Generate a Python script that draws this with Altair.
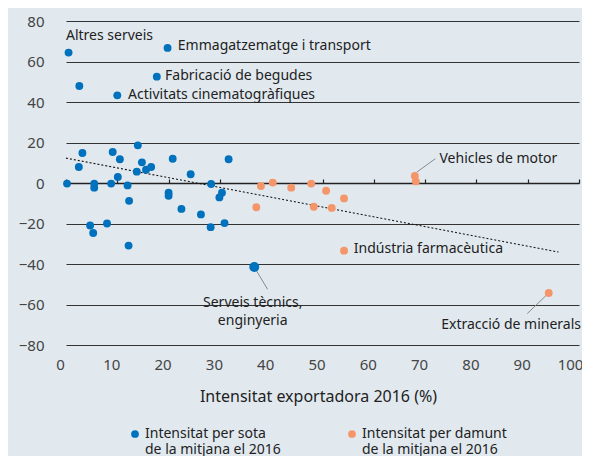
import altair as alt
import pandas as pd

# ---- data ----
blue_x = [0.5, 2.6, 19.8, 17.7, 10.0, 0.2, 3.2, 2.5, 5.5, 5.5, 4.7, 5.3, 8.0, 9.1, 10.5, 8.8,
          10.1, 12.0, 12.3, 12.2, 14.0, 13.8, 14.8, 15.6, 16.6, 20.8, 20.0, 20.0, 22.5, 24.3,
          26.3, 28.3, 28.2, 30.4, 29.9, 31.7, 30.9]
blue_y = [64.4, 47.9, 66.7, 52.5, 43.3, -0.3, 14.8, 7.9, -0.3, -2.3, -21.0, -24.7, -20.0, 15.3,
          11.7, -0.3, 3.0, -1.2, -8.8, -30.9, 18.6, 5.6, 10.2, 6.6, 7.9, 12.0, -4.8, -6.3,
          -12.8, 4.3, -15.5, -0.5, -21.8, -4.8, -7.1, 11.7, -19.8]
big_x = [36.7]
big_y = [-41.5]
orange_x = [38.0, 40.3, 43.9, 47.8, 50.7, 54.2, 37.1, 48.3, 51.8, 68.0, 68.2, 54.2, 94.1]
orange_y = [-1.5, 0.2, -2.3, -0.3, -3.8, -7.6, -12.0, -11.7, -12.3, 3.5, 0.8, -33.4, -54.3]

groups = ["Intensitat per sota de la mitjana el 2016", "Intensitat per damunt de la mitjana el 2016"]
colors = ["#0071BC", "#F4956A"]

trend_x = [0, 96]
trend_y = [12.3, -34.1]

# labels left-aligned
lab_left_text = ["Altres serveis", "Emmagatzematge i transport", "Fabricació de begudes",
                 "Activitats cinematogràfiques", "Vehicles de motor", "Indústria farmacèutica"]
lab_left_x = [0.0, 21.8, 19.3, 12.1, 72.8, 56.1]
lab_left_y = [72.4, 67.7, 52.8, 43.3, 12.0, -32.7]

lab_center_text = [["Serveis tècnics,", "enginyeria"]]
lab_center_x = [36.4]
lab_center_y = [-59.4]

lab_right_text = ["Extracció de minerals"]
lab_right_x = [100.4]
lab_right_y = [-69.9]

leader_x = [68.4, 36.7, 94.1]
leader_y = [5.4, -41.5, -54.3]
leader_x2 = [72.0, 39.3, 89.9]
leader_y2 = [12.0, -52.5, -64.5]

x_ticks = list(range(0, 101, 10))
y_ticks = list(range(-80, 81, 20))

FONT = "Noto Sans"

pts = pd.DataFrame({
    "x": blue_x + orange_x,
    "y": blue_y + orange_y,
    "grup": [groups[0]] * len(blue_x) + [groups[1]] * len(orange_x),
})
big = pd.DataFrame({"x": big_x, "y": big_y, "grup": [groups[0]] * len(big_x)})
trend = pd.DataFrame({"x": trend_x, "y": trend_y})
lab_left = pd.DataFrame({"x": lab_left_x, "y": lab_left_y, "t": lab_left_text})
lab_center = pd.DataFrame({"x": lab_center_x, "y": lab_center_y, "t": lab_center_text})
lab_right = pd.DataFrame({"x": lab_right_x, "y": lab_right_y, "t": lab_right_text})
leaders = pd.DataFrame({"x": leader_x, "y": leader_y, "x2": leader_x2, "y2": leader_y2})

xscale = alt.Scale(domain=[0, 100], nice=False, zero=False)
yscale = alt.Scale(domain=[-80, 80], nice=False, zero=False)
yaxis = alt.Axis(values=y_ticks, grid=True, gridColor="#333333", gridWidth=1, ticks=False,
                 domain=False, labelFontSize=15, labelColor="#444444", labelFont=FONT,
                 labelPadding=22, title=None)


def Y(field="y"):
    return alt.Y(f"{field}:Q", scale=yscale, axis=yaxis)


def Xn(field="x"):
    return alt.X(f"{field}:Q", scale=xscale, axis=None)


color = alt.Color("grup:N", scale=alt.Scale(domain=groups, range=colors),
                  legend=alt.Legend(
                      title=None, orient="none", direction="horizontal",
                      legendX=62, legendY=406, symbolType="circle", symbolSize=60,
                      symbolStrokeWidth=0, symbolOpacity=1,
                      labelFont=FONT, labelFontSize=14, labelColor="#222222",
                      labelOffset=3, columnPadding=64, padding=0,
                      labelLimit=300,
                      labelExpr="[slice(datum.label, 0, indexof(datum.label, ' de la')), slice(datum.label, indexof(datum.label, ' de la') + 1)]",
                  ))

# zero line with ticks (top axis shifted down to y=0)
zero_axis = alt.Chart(trend).mark_line(opacity=0).encode(
    x=alt.X("x:Q", scale=xscale, axis=alt.Axis(
        orient="top", offset=-162, values=x_ticks, labels=False, ticks=True, tickSize=4,
        tickColor="#222222", tickWidth=1.2, domain=True, domainColor="#222222", domainWidth=1.5,
        grid=False, title=None)),
    y=Y(),
)

leader_lines = alt.Chart(leaders).mark_rule(color="#8a8a8a", strokeWidth=1).encode(
    x=Xn(), y=Y(), x2="x2:Q", y2="y2:Q")

trend_line = alt.Chart(trend).mark_line(color="#111111", strokeWidth=1.1, strokeDash=[2, 2]).encode(
    x=Xn(), y=Y())

points = alt.Chart(pts).mark_circle(size=62, opacity=1).encode(
    x=alt.X("x:Q", scale=xscale, axis=alt.Axis(
        values=x_ticks, grid=False, ticks=False, domain=False, labelFontSize=15,
        labelColor="#444444", labelFont=FONT, labelPadding=12,
        labelOffset={"condition": {"test": "datum.value == 100", "value": -9}, "value": -6},
        labelFlush=False,
        title="Intensitat exportadora 2016 (%)", titleFont=FONT, titleFontSize=16,
        titleFontWeight="normal", titleColor="#222222", titleX=252, titleY=51,
        titleBaseline="middle", titleAlign="center")),
    y=Y(),
    color=color,
)

big_point = alt.Chart(big).mark_circle(size=100, opacity=1).encode(
    x=Xn(), y=Y(), color=alt.Color("grup:N", scale=alt.Scale(domain=groups, range=colors), legend=None))

text_left = alt.Chart(lab_left).mark_text(align="left", baseline="middle", font=FONT, fontSize=14,
                                          color="#222222").encode(x=Xn(), y=Y(), text="t:N")
text_center = alt.Chart(lab_center).mark_text(align="center", baseline="middle", font=FONT, fontSize=14,
                                              lineHeight=18, color="#222222").encode(x=Xn(), y=Y(), text="t")
text_right = alt.Chart(lab_right).mark_text(align="right", baseline="middle", font=FONT, fontSize=14,
                                            color="#222222").encode(x=Xn(), y=Y(), text="t:N")

chart = alt.layer(
    zero_axis, leader_lines, trend_line, points, big_point, text_left, text_center, text_right
).resolve_axis(x="independent").properties(
    width=513, height=324,
    autosize=alt.AutoSizeParams(type="none"),
    padding={"left": 58, "top": 13, "right": 3, "bottom": 111},
    background="#E1E9EF",
).configure_view(stroke=None)

chart.save("out.html", embed_options={"renderer": "svg", "actions": False})
